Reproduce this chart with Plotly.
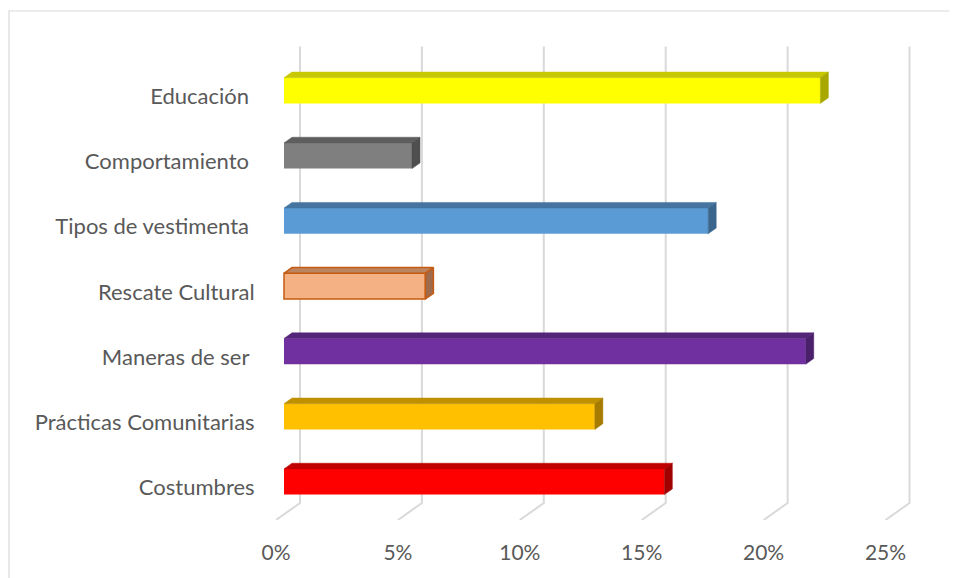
import plotly.graph_objects as go

# ---------------- data ----------------
categories = ["Costumbres", "Prácticas Comunitarias", "Maneras de ser\u00a0",
              "Rescate Cultural", "Tipos de vestimenta\u00a0", "Comportamiento\u00a0",
              "Educación\u00a0"]
values = [15.6, 12.75, 21.4, 5.8, 17.4, 5.25, 22.0]   # percent

front_colors = ["#FF0000", "#FFC000", "#7030A0", "#F4B183", "#5B9BD5", "#7F7F7F", "#FFFF00"]
top_colors   = ["#C00000", "#BF9000", "#54257A", "#BD8460", "#44749F", "#5E5E5E", "#C8C800"]
side_colors  = ["#A00000", "#A67C00", "#4A1F6B", "#9E6C4C", "#3A658C", "#4F4F4F", "#A8A800"]
outline_colors = [None, None, None, "#C55A11", None, None, None]

x_ticks = [0, 5, 10, 15, 20, 25]
x_tick_labels = ["0%", "5%", "10%", "15%", "20%", "25%"]

# ---------------- geometry (pseudo-3D) ----------------
# page body has an 8px margin, so the figure is 8px smaller and shifted
W, H = 949, 570
ML, MR, MT, MB = 268, 42, 32, 58
PX_PER_PCT = 24.38
PX_PER_CAT = 65.2
plot_w = W - ML - MR
plot_h = H - MT - MB
x_max = plot_w / PX_PER_PCT
y_min = -0.5
y_max = y_min + plot_h / PX_PER_CAT

DX = 24 / PX_PER_PCT      # depth offset in x (data units)
DY = 17 / PX_PER_CAT      # depth offset in y (data units)
BAR_H = 0.394

GRID = "#D9D9D9"
TXT = "#595959"
FONT = "Lato"

fig = go.Figure()

# gridlines: back wall vertical + slanted floor segment (drawn below bars)
for v in x_ticks:
    fig.add_shape(type="path", xref="x", yref="y", layer="below",
                  path=f"M {v + DX},{6.5 + DY} L {v + DX},{y_min + DY} L {v},{y_min}",
                  line=dict(color=GRID, width=2))

for i, (cat, v) in enumerate(zip(categories, values)):
    yc = i + DY / 3
    yb = yc - BAR_H / 2
    yt = yc + BAR_H / 2
    x0 = DX / 3
    x1 = v + DX / 3
    oc = outline_colors[i]
    lw = 1.5 if oc else 0
    # front face
    fig.add_trace(go.Bar(
        y=[yc], x=[v], base=[x0], orientation="h", width=BAR_H,
        marker=dict(color=front_colors[i],
                    line=dict(color=oc if oc else front_colors[i], width=lw)),
        hovertemplate=f"{cat.strip()}: {v}%<extra></extra>", showlegend=False))
    # top face
    fig.add_trace(go.Scatter(
        x=[x0, x1, x1 + DX / 3, x0 + DX / 3, x0],
        y=[yt, yt, yt + DY / 3, yt + DY / 3, yt],
        mode="lines", fill="toself", fillcolor=top_colors[i],
        line=dict(color=oc if oc else top_colors[i], width=lw if oc else 0.5),
        hoverinfo="skip", showlegend=False))
    # side face
    fig.add_trace(go.Scatter(
        x=[x1, x1 + DX / 3, x1 + DX / 3, x1, x1],
        y=[yb, yb + DY / 3, yt + DY / 3, yt, yb],
        mode="lines", fill="toself", fillcolor=side_colors[i],
        line=dict(color=oc if oc else side_colors[i], width=lw if oc else 0.5),
        hoverinfo="skip", showlegend=False))

# outer chart border (light gray)
fig.add_shape(type="rect", xref="paper", yref="paper",
              x0=(1 - ML) / plot_w, x1=(990 - ML) / plot_w,
              y0=(H - MB - 600) / plot_h, y1=(H - MB - 3) / plot_h,
              line=dict(color="#D9D9D9", width=1.2), fillcolor="rgba(0,0,0,0)",
              layer="below")

fig.update_layout(
    width=W, height=H,
    margin=dict(l=ML, r=MR, t=MT, b=MB),
    paper_bgcolor="white", plot_bgcolor="white",
    barmode="overlay",
    font=dict(family=FONT, color=TXT, size=21),
    xaxis=dict(range=[0, x_max], tickvals=x_ticks, ticktext=x_tick_labels,
               showgrid=False, zeroline=False, showline=False,
               ticks="outside", ticklen=14, tickcolor="rgba(0,0,0,0)",
               tickfont=dict(size=21, color=TXT, family=FONT), fixedrange=True),
    yaxis=dict(range=[y_min, y_max], tickvals=list(range(len(categories))),
               ticktext=categories,
               showgrid=False, zeroline=False, showline=False,
               ticks="outside", ticklen=16, tickcolor="rgba(0,0,0,0)",
               tickfont=dict(size=22, color=TXT, family=FONT), fixedrange=True),
)

fig.write_html("out.html")
